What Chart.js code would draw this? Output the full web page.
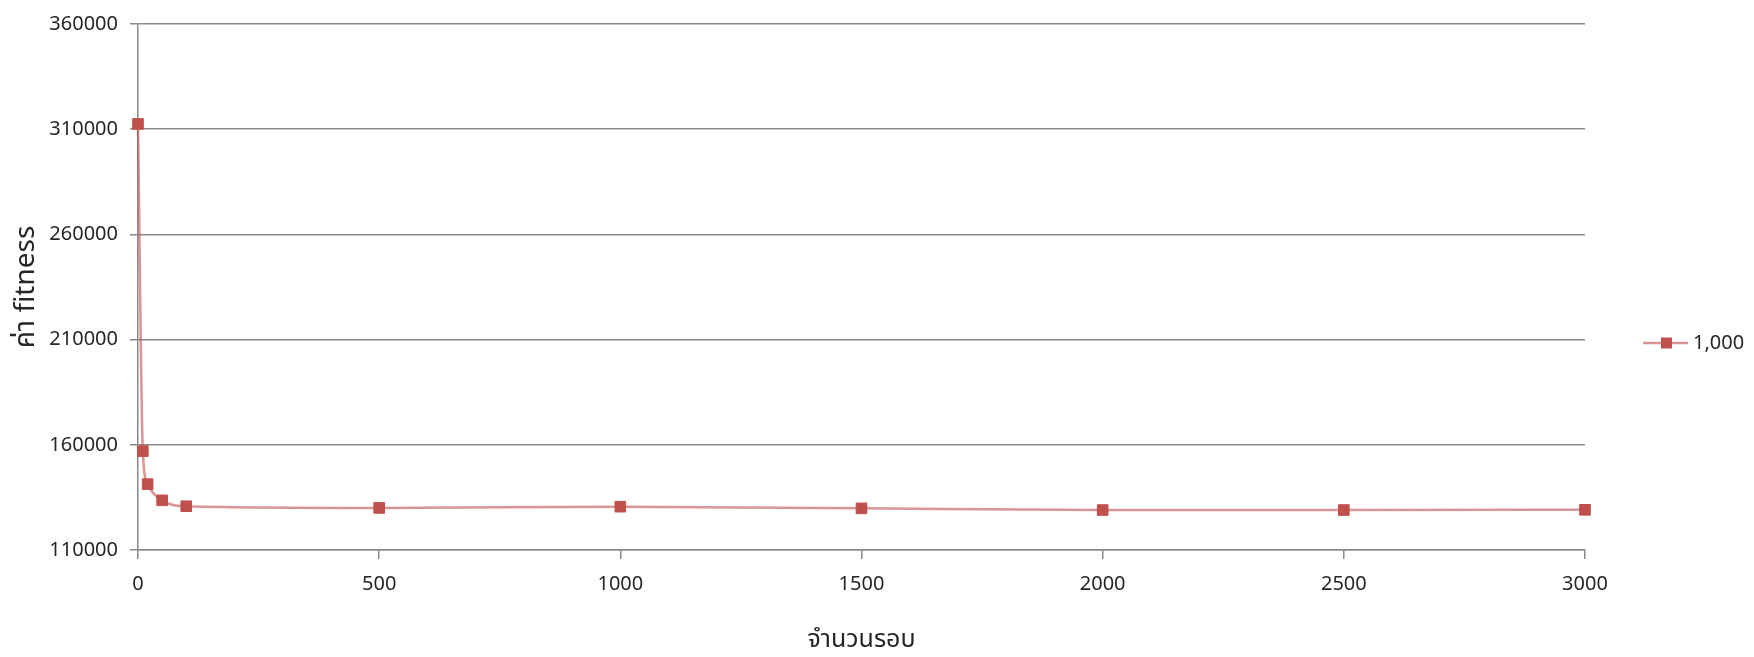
<!DOCTYPE html>
<html>
<head>
<meta charset="utf-8">
<script src="https://cdn.jsdelivr.net/npm/chart.js@4/dist/chart.umd.min.js"></script>
<style>
  html, body { margin: 0; padding: 0; background: #fff; }
  #wrap { width: 1754px; height: 657px; position: relative; }
</style>
</head>
<body>
<div id="wrap"><canvas id="chart"></canvas></div>
<script>
// ข้อมูลอ่านจากกราฟ
const iterations = [0, 10, 20, 50, 100, 500, 1000, 1500, 2000, 2500, 3000];
const fitness = [312500, 157000, 141300, 133600, 130800, 130000, 130600, 129800, 129000, 129000, 129100];
const seriesName = '1,000';
const xTitle = 'จำนวนรอบ';
const yTitle = 'ค่า fitness';

const FONT = '"Noto Sans", "Noto Sans Thai", "DejaVu Sans", sans-serif';
const TEXT = '#262626';
const GRID = '#8a8a8a';
const RED = '#C0504D';

// legend แบบ Excel (เส้น + สี่เหลี่ยม) ด้านขวา
const excelLegend = {
  id: 'excelLegend',
  afterDraw(chart) {
    const ctx = chart.ctx;
    const ds = chart.data.datasets[0];
    const y = 343;
    ctx.save();
    ctx.strokeStyle = ds.borderColor;
    ctx.lineWidth = ds.borderWidth;
    ctx.beginPath();
    ctx.moveTo(1643, y);
    ctx.lineTo(1688, y);
    ctx.stroke();
    ctx.fillStyle = RED;
    ctx.fillRect(1661, y - 5.5, 11, 11);
    ctx.fillStyle = TEXT;
    ctx.font = '20px ' + FONT;
    ctx.textBaseline = 'middle';
    ctx.fillText(ds.label, 1693, y);
    ctx.restore();
  }
};

new Chart(document.getElementById('chart'), {
  type: 'line',
  data: {
    datasets: [{
      label: seriesName,
      data: iterations.map((x, i) => ({ x: x, y: fitness[i] })),
      borderColor: 'rgba(192, 80, 77, 0.6)',
      borderWidth: 2.5,
      backgroundColor: RED,
      pointBackgroundColor: RED,
      pointBorderColor: RED,
      pointBorderWidth: 1,
      pointStyle: 'rect',
      pointRadius: 7.5,
      cubicInterpolationMode: 'monotone',
      fill: false,
      clip: false
    }]
  },
  options: {
    responsive: true,
    maintainAspectRatio: false,
    animation: false,
    layout: { padding: { top: 23, right: 169, left: 0, bottom: 0 } },
    plugins: {
      legend: { display: false },
      tooltip: { enabled: false }
    },
    scales: {
      x: {
        type: 'linear',
        min: 0,
        max: 3000,
        afterFit: s => { s.height = 107; },
        ticks: {
          stepSize: 500,
          color: TEXT,
          padding: 13,
          font: { family: FONT, size: 20 },
          callback: v => String(v)
        },
        grid: { drawOnChartArea: false, drawTicks: true, tickLength: 9, color: GRID, lineWidth: 1.5 },
        border: { color: GRID, width: 1.5 },
        title: {
          display: true,
          text: xTitle,
          color: TEXT,
          font: { family: FONT, size: 25 },
          padding: { top: 0, bottom: 2 }
        }
      },
      y: {
        min: 110000,
        max: 360000,
        afterFit: s => { s.width = 138; },
        ticks: {
          stepSize: 50000,
          color: TEXT,
          padding: 12,
          font: { family: FONT, size: 20 },
          callback: v => String(v)
        },
        grid: { color: GRID, lineWidth: 1.5, tickLength: 8 },
        border: { color: GRID, width: 1.5 },
        title: {
          display: true,
          text: yTitle,
          color: TEXT,
          font: { family: FONT, size: 28 },
          padding: { top: 9, bottom: 0 }
        }
      }
    }
  },
  plugins: [excelLegend]
});
</script>
</body>
</html>
